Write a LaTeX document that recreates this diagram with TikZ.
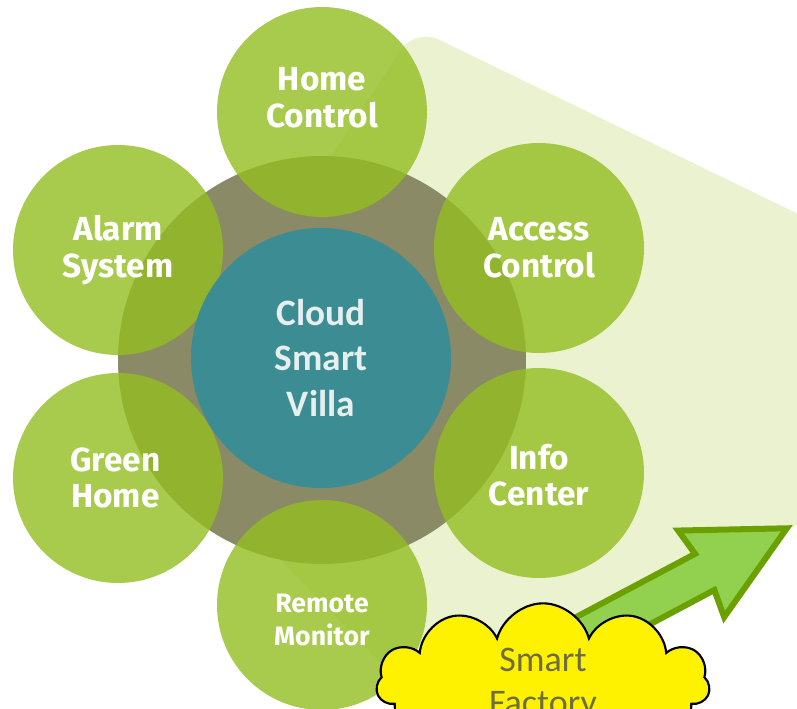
\documentclass[tikz,border=0pt]{standalone}
\usepackage{fontspec}
\setmainfont{Carlito}
\newfontfamily\satfont{Fira Sans}
\usetikzlibrary{shapes.symbols}

\definecolor{palegreen}{HTML}{EBF2D0}
\definecolor{ringgrey}{HTML}{8A8A66}
\definecolor{satgreen}{HTML}{94BE21}
\definecolor{coreteal}{HTML}{3B8C93}
\definecolor{coretext}{HTML}{E6EEEE}
\definecolor{arrowfill}{HTML}{92D050}
\definecolor{arrowline}{HTML}{6AA100}
\definecolor{factorytext}{HTML}{6E6C40}

\tikzset{
  ring/.style={circle, fill=ringgrey, minimum size=306pt, inner sep=0pt},
  sat/.style={circle, fill=satgreen, fill opacity=0.8, text opacity=1,
    minimum size=157.5pt, inner sep=0pt},
  satlabel/.style={text=white, align=center,
    font=\satfont\bfseries\fontsize{25}{27.5}\selectfont},
  core/.style={circle, fill=coreteal, minimum size=195pt, inner sep=0pt,
    text=coretext, align=center, font=\bfseries\fontsize{28}{34}\selectfont},
  bigarrow/.style={fill=arrowfill, draw=arrowline, line width=4.5pt,
    line join=miter},
  cloudbox/.style={cloud, cloud puffs=11, aspect=2.1, fill=yellow, draw=black,
    line width=1.6pt, minimum width=250pt, minimum height=117pt,
    text=factorytext, align=center, font=\fontsize{27}{32}\selectfont}
}

\begin{document}
\begin{tikzpicture}[x=0.75pt,y=-0.75pt]
\useasboundingbox (0,0) rectangle (797,709);

% pale backdrop
\fill[palegreen, rounded corners=20pt] (415,28) -- (860,244) -- (860,489)
  -- (442,726) -- (153,429) -- cycle;

% hub
\node[ring] (ring) at (322,360) {};

% the six services
\node[sat] (home) at (322,112) {};
\node[sat] (alarm) at (118,250) {};
\node[sat] (access) at (539,248) {};
\node[sat] (green) at (118,478) {};
\node[sat] (info) at (539,473) {};
\node[sat] (remote) at (322,605) {};

\node[satlabel] at ([yshift=10.5pt]home.center) {Home\\Control};
\node[satlabel] at (alarm.center) {Alarm\\System};
\node[satlabel] at (access.center) {Access\\Control};
\node[satlabel] at ([xshift=-2pt]green.center) {Green\\Home};
\node[satlabel] at ([yshift=-1.5pt]info.center) {Info\\Center};
\node[satlabel, font=\satfont\bfseries\fontsize{20}{24.5}\selectfont]
  at ([yshift=-11pt]remote.center) {Remote\\Monitor};

\node[core] (core) at (321,358) {Cloud\\Smart\\Villa};

% arrow out of the factory
\coordinate (tip) at (793,525);
\begin{scope}[shift={(tip)}, rotate=28]
  \draw[bigarrow] (-7,0) -- (-104,-49) -- (-100,-20.5) -- (-290,-20.5)
    -- (-290,20.5) -- (-100,20.5) -- (-104,49) -- cycle;
\end{scope}

\node[cloudbox] (factory) at (543,684) {Smart\\Factory};
\end{tikzpicture}
\end{document}
